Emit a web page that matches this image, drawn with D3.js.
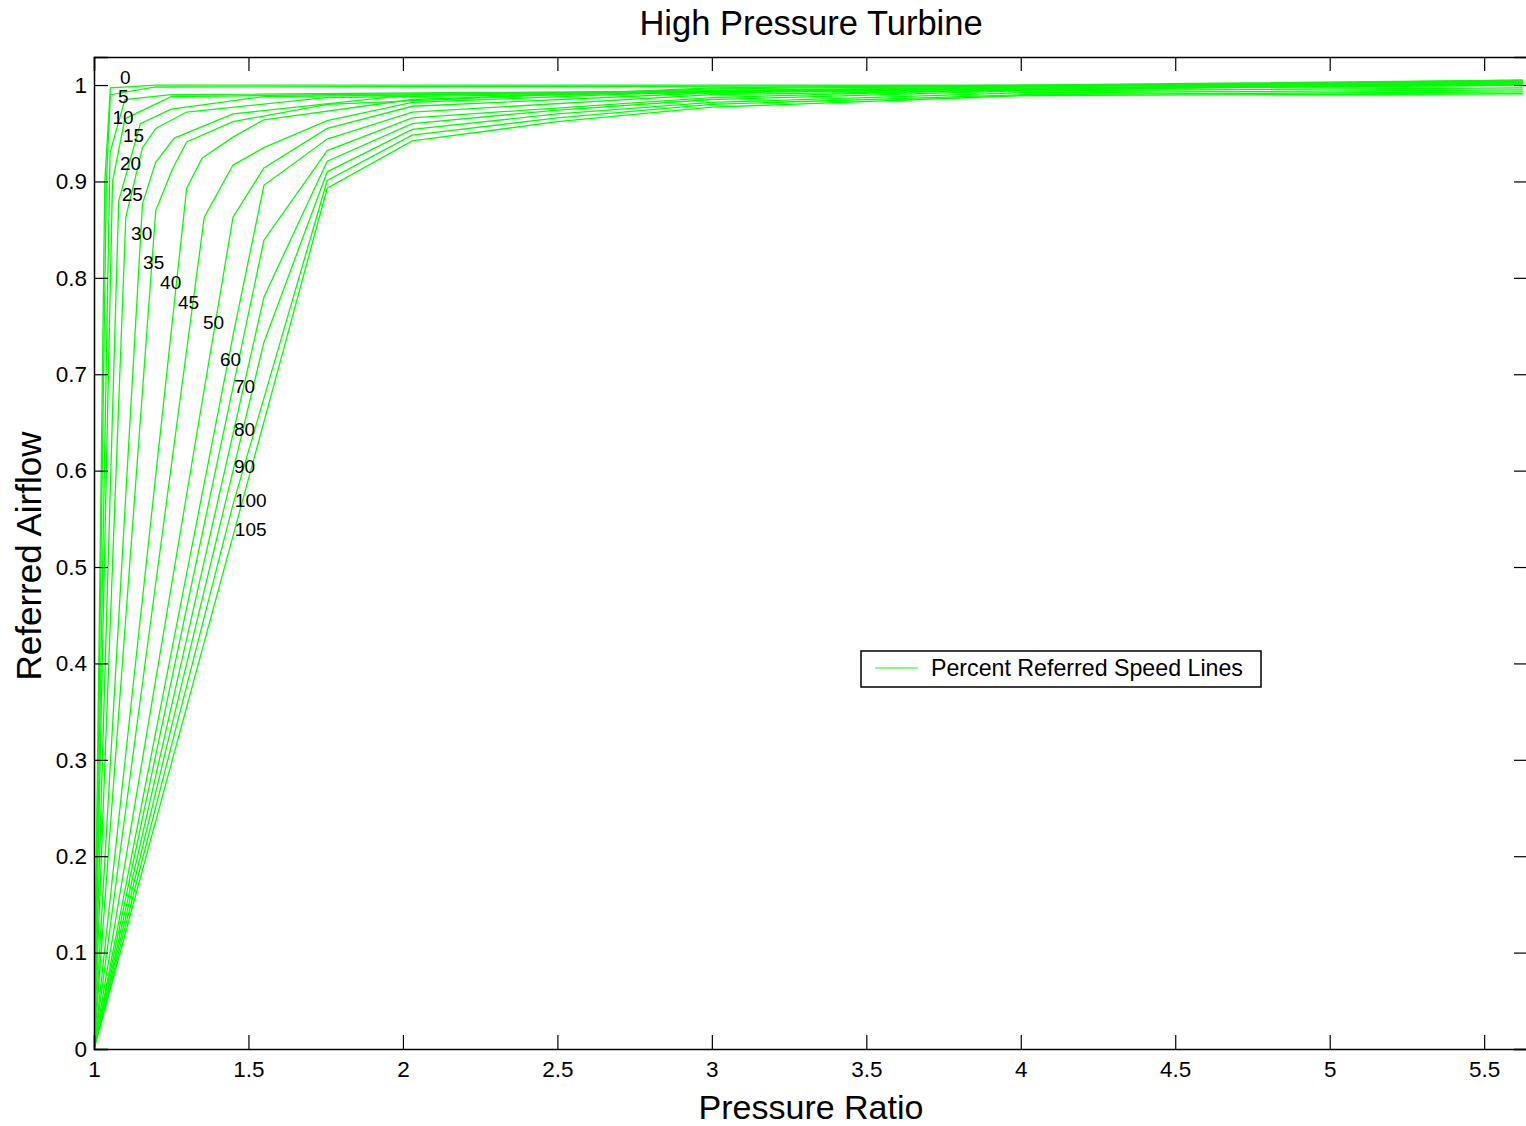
<!DOCTYPE html>
<html>
<head>
<meta charset="utf-8">
<script src="https://cdn.jsdelivr.net/npm/d3@7"></script>
<style>
  html, body { margin: 0; padding: 0; background: #fff; }
  svg { display: block; font-family: "Liberation Sans", Arial, sans-serif; }
</style>
</head>
<body>
<svg id="chart" width="1526" height="1126"></svg>
<script>
// Percent referred speed for each line on the map
const speeds = [0, 5, 10, 15, 20, 25, 30, 35, 40, 45, 50, 60, 70, 80, 90, 100, 105];

// Pressure ratio points along each speed line (same order as speeds)
const pressureRatio = [
  [1, 1.035, 1.053, 1.2, 5.625],
  [1, 1.04, 1.053, 1.2, 5.625],
  [1, 1.052, 1.10, 1.25, 5.625],
  [1, 1.06, 1.10, 1.25, 1.75, 5.625],
  [1, 1.08, 1.15, 1.25, 1.55, 5.625],
  [1, 1.103, 1.157, 1.2, 1.3, 1.75, 5.625],
  [1, 1.157, 1.2, 1.26, 1.45, 2.03, 5.625],
  [1, 1.2, 1.254, 1.3, 1.45, 1.755, 3, 5.625],
  [1, 1.3, 1.35, 1.45, 1.55, 2.03, 3, 5.625],
  [1, 1.357, 1.45, 1.55, 1.755, 2.03, 3, 5.625],
  [1, 1.45, 1.55, 1.755, 2.03, 3, 5.625],
  [1, 1.45, 1.55, 1.755, 2.03, 3, 5.625],
  [1, 1.55, 1.755, 2.03, 3, 4, 5.625],
  [1, 1.55, 1.755, 2.03, 2.5, 3, 4, 5.625],
  [1, 1.55, 1.755, 2.03, 2.5, 3, 4, 5.625],
  [1, 1.45, 1.755, 2.03, 2.5, 3, 4, 5.625],
  [1, 1.755, 2.03, 2.5, 3, 4, 5.625]
];

// Referred airflow at those pressure ratios
const airflow = [
  [0, 0.90, 0.997, 1.0, 1.0],
  [0, 0.90, 0.99, 0.998, 1.0],
  [0, 0.93, 0.985, 0.99, 1.0],
  [0, 0.90, 0.965, 0.988, 0.99, 1.0],
  [0, 0.88, 0.96, 0.975, 0.988, 1.002],
  [0, 0.863, 0.935, 0.955, 0.972, 0.987, 1.003],
  [0, 0.877, 0.92, 0.945, 0.97, 0.99, 1.005],
  [0, 0.87, 0.913, 0.941, 0.962, 0.98, 0.997, 1.005],
  [0, 0.893, 0.924, 0.946, 0.964, 0.985, 0.996, 1.004],
  [0, 0.863, 0.917, 0.935, 0.963, 0.982, 0.994, 1.004],
  [0, 0.863, 0.914, 0.955, 0.978, 0.992, 1.003],
  [0, 0.74, 0.896, 0.944, 0.972, 0.99, 1.002],
  [0, 0.839, 0.932, 0.966, 0.987, 0.996, 1.0],
  [0, 0.78, 0.921, 0.96, 0.974, 0.985, 0.994, 0.997],
  [0, 0.733, 0.910, 0.954, 0.97, 0.982, 0.992, 0.995],
  [0, 0.565, 0.901, 0.948, 0.966, 0.98, 0.99, 0.993],
  [0, 0.893, 0.942, 0.962, 0.977, 0.989, 0.991]
];

// Where each speed label sits (pressure ratio, airflow)
const labelPR = [1.084, 1.078, 1.06, 1.094, 1.084, 1.09, 1.12, 1.159, 1.214, 1.272, 1.353, 1.408, 1.453, 1.453, 1.453, 1.456, 1.456];
const labelFlow = [1.008, 0.988, 0.967, 0.948, 0.919, 0.887, 0.846, 0.816, 0.795, 0.775, 0.754, 0.715, 0.687, 0.643, 0.604, 0.569, 0.539];

const xTicks = [1, 1.5, 2, 2.5, 3, 3.5, 4, 4.5, 5, 5.5];
const yTicks = [0, 0.1, 0.2, 0.3, 0.4, 0.5, 0.6, 0.7, 0.8, 0.9, 1];

const margin = { left: 94, top: 57, right: 1528, bottom: 1049 };
const svg = d3.select("#chart");

const x = d3.scaleLinear().domain([1, 5.6419]).range([margin.left, margin.right]);
const y = d3.scaleLinear().domain([0, 1.0291]).range([margin.bottom, margin.top]);

const tickLen = 14;
const tickFont = 22.5;

// Speed lines
const lineGen = d3.line().x(d => x(d[0])).y(d => y(d[1]));
const plot = svg.append("g");
plot.append("clipPath").attr("id", "plotClip")
  .append("rect")
  .attr("x", margin.left).attr("y", margin.top)
  .attr("width", margin.right - margin.left).attr("height", margin.bottom - margin.top);

speeds.forEach((s, i) => {
  const pts = pressureRatio[i].map((p, j) => [p, airflow[i][j]]);
  plot.append("path")
    .datum(pts)
    .attr("d", lineGen)
    .attr("fill", "none")
    .attr("stroke", "#00ff00")
    .attr("stroke-width", 1.3)
    .attr("clip-path", "url(#plotClip)");
});

// Frame and inward ticks (all four sides)
const axisG = svg.append("g");
const bottomAxis = d3.axisBottom(x).tickValues(xTicks).tickSize(-tickLen).tickPadding(12)
  .tickFormat(d3.format("~g"));
const topAxis = d3.axisTop(x).tickValues(xTicks).tickSize(-tickLen).tickFormat("");
const leftAxis = d3.axisLeft(y).tickValues(yTicks).tickSize(-tickLen).tickPadding(7)
  .tickFormat(d3.format("~g"));
const rightAxis = d3.axisRight(y).tickValues(yTicks).tickSize(-tickLen).tickFormat("");

axisG.append("g").attr("transform", `translate(0,${margin.bottom})`).call(bottomAxis);
axisG.append("g").attr("transform", `translate(0,${margin.top})`).call(topAxis);
axisG.append("g").attr("transform", `translate(${margin.left},0)`).call(leftAxis);
axisG.append("g").attr("transform", `translate(${margin.right},0)`).call(rightAxis);

axisG.selectAll(".domain").attr("stroke", "#000").attr("stroke-width", 1.5);
axisG.selectAll(".tick line").attr("stroke", "#000").attr("stroke-width", 1.2);
axisG.selectAll(".tick text")
  .attr("fill", "#000")
  .style("font-family", "Liberation Sans, Arial, sans-serif")
  .style("font-size", tickFont + "px");

// Speed labels
svg.append("g").selectAll("text")
  .data(speeds)
  .join("text")
  .attr("x", (d, i) => x(labelPR[i]))
  .attr("y", (d, i) => y(labelFlow[i]))
  .attr("dy", "0.35em")
  .attr("font-size", 19)
  .attr("fill", "#000")
  .text(d => d);

// Titles
svg.append("text")
  .attr("x", (margin.left + margin.right) / 2).attr("y", 35)
  .attr("text-anchor", "middle").attr("font-size", 34.5)
  .text("High Pressure Turbine");

svg.append("text")
  .attr("x", (margin.left + margin.right) / 2).attr("y", 1119)
  .attr("text-anchor", "middle").attr("font-size", 34)
  .text("Pressure Ratio");

svg.append("text")
  .attr("transform", `translate(41,${(margin.top + margin.bottom) / 2 + 3}) rotate(-90)`)
  .attr("text-anchor", "middle").attr("font-size", 35)
  .text("Referred Airflow");

// Legend
const legend = svg.append("g").attr("transform", "translate(861,651)");
legend.append("rect")
  .attr("width", 400).attr("height", 36)
  .attr("fill", "#fff").attr("stroke", "#000").attr("stroke-width", 1.5);
legend.append("line")
  .attr("x1", 14).attr("x2", 57).attr("y1", 17).attr("y2", 17)
  .attr("stroke", "#00ff00").attr("stroke-width", 1.2);
legend.append("text")
  .attr("x", 70).attr("y", 25)
  .attr("font-size", 23.2)
  .text("Percent Referred Speed Lines");
</script>
</body>
</html>
